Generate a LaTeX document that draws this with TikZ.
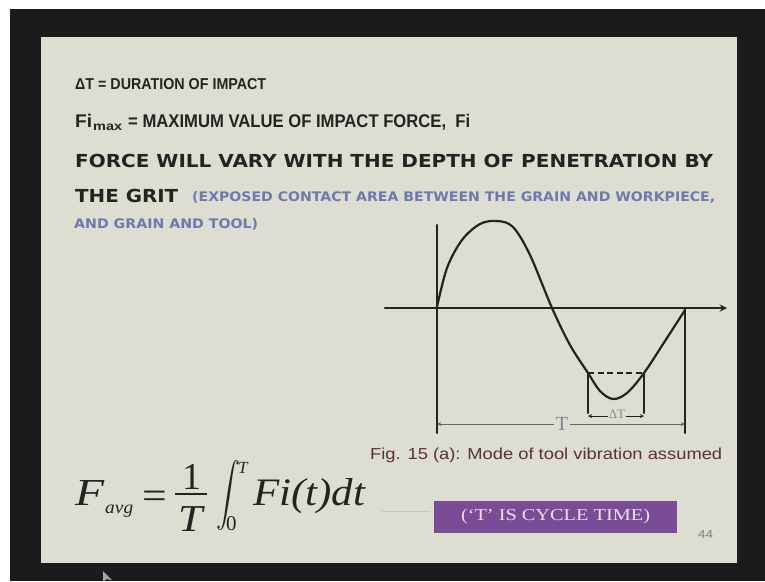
\documentclass[tikz,border=0pt]{standalone}
\usepackage{fontspec}
\usepackage{amsmath}
\usepackage{graphicx}
\setmainfont{Liberation Sans}
\newfontfamily\seriffont{Liberation Serif}
\newfontfamily\heavyfont{DejaVu Sans}
\definecolor{slidebg}{RGB}{221,221,209}
\definecolor{framebg}{RGB}{26,28,27}
\definecolor{inkdark}{RGB}{35,35,35}
\definecolor{noteblue}{RGB}{108,122,176}
\definecolor{captionred}{RGB}{90,50,50}
\definecolor{boxpurple}{RGB}{122,76,150}
\newcommand{\fitto}[3]{\resizebox{#1pt}{#2pt}{#3}}
\newcommand{\eqfont}[1]{\seriffont\fontsize{#1}{#1}\selectfont}
\begin{document}
\begin{tikzpicture}[x=1pt, y=-1pt, line join=round, line cap=round, >=stealth,
		txt/.style={anchor=base west, inner sep=0pt, text=inkdark},
		eq/.style={inner sep=0pt, text=inkdark},
		axis/.style={line width=2.2pt, draw=inkdark},
		dim/.style={<->, line width=0.9pt}]
	\useasboundingbox (0,0) rectangle (765,581);
	\fill[white] (0,0) rectangle (765,581);
	\fill[framebg] (10,9) rectangle (765,581);
	\fill[slidebg] (41,37) rectangle (737,563);
	\fill[gray!70] (103,571)--(103,583)--(106,579)--(112,580)--cycle;
	\node[txt] (dur) at (75,89) {\fitto{191}{11}{\bfseries ΔT = DURATION OF IMPACT}};
	\node[txt] (fi) at (75,127) {\fitto{17}{13.3}{\bfseries Fi}};
	\node[txt] (fisub) at (93,130) {\fitto{29}{6.5}{\bfseries max}};
	\node[txt] (fimax) at (128,127) {\fitto{342}{13.3}{\bfseries = MAXIMUM VALUE OF IMPACT FORCE,\ \ Fi}};
	\node[txt] (vary) at (75,167) {\fitto{638}{13.3}{\heavyfont\bfseries FORCE WILL VARY WITH THE DEPTH OF PENETRATION BY}};
	\node[txt] (grit) at (75,202) {\fitto{103}{13.3}{\heavyfont\bfseries THE GRIT}};
	\node[txt, text=noteblue] (note) at (192,201) {\fitto{523}{10}{\heavyfont\bfseries (EXPOSED CONTACT AREA BETWEEN THE GRAIN AND WORKPIECE,}};
	\node[txt, text=noteblue] (note2) at (74,228) {\fitto{184}{10}{\heavyfont\bfseries AND GRAIN AND TOOL)}};
	\path (437,225) coordinate (ytop)
		(437,433) coordinate (ybot)
		(385,308) coordinate (xl)
		(727,308) coordinate (xr)
		(685,308) coordinate (E)
		(685,433) coordinate (Eb)
		(588,373) coordinate (P)
		(644,373) coordinate (Q)
		(588,413) coordinate (Pb)
		(644,413) coordinate (Qb);
	\draw[axis] (ytop)--(ybot);
	\draw[axis, ->] (xl)--(xr);
	\draw[axis] (E)--(Eb) (P)--(Pb) (Q)--(Qb);
	\draw[axis, line cap=butt, dash pattern=on 6pt off 3.5pt] (P)--(Q);
	\draw[axis] plot[smooth, tension=0.55] coordinates {(437,307) (447,268) (462,240) (480,224) (497,221) (513,227) (530,255) (552,308) (570,345) (588,373) (600,391) (613,399) (627,393) (644,373) (665,341) (685,310)};
	\draw[dim, draw=inkdark] ([yshift=-3pt]Pb)--([yshift=-3pt]Qb);
	\node[fill=slidebg, inner sep=1pt, text=gray!90] (dT) at (617,414) {\eqfont{13}ΔT};
	\draw[dim, draw=gray!80!black] (437,424)--(685,424);
	\node[fill=slidebg, inner sep=2pt, text={rgb,255:red,125;green,132;blue,160}] (T) at (562,424) {\eqfont{20}T};
	\node[txt, text=captionred] (cap) at (370,459) {\fitto{352}{11.5}{Fig. 15 (a): Mode of tool vibration assumed}};
	\node[eq, anchor=base west] (F) at (75,505) {\fitto{29}{25}{\eqfont{38}\itshape F}};
	\node[eq, anchor=base west] (avg) at (105,513) {\fitto{28}{8.5}{\eqfont{18}\itshape avg}};
	\node[eq, anchor=base west] (eqs) at (142,508) {\scalebox{1.15}[1]{\eqfont{38}=}};
	\node[eq, anchor=base] (one) at (192,489) {\eqfont{38}1};
	\node[eq, anchor=base] (den) at (191,531) {\scalebox{1.15}[1]{\eqfont{38}\itshape T}};
	\coordinate (barl) at (175,494);
	\coordinate (barr) at (207,494);
	\draw[inkdark, line width=1.5pt, line cap=butt] (barl)--(barr);
	\node[eq, anchor=north west] (int) at (216,460) {\resizebox*{24pt}{70pt}{$\displaystyle\int$}};
	\node[eq, anchor=base west] (up) at (238,473) {\eqfont{17}\itshape T};
	\node[eq, anchor=base west] (low) at (226,530) {\eqfont{21}0};
	\node[eq, anchor=base west] (fit) at (253,505) {\fitto{112}{27}{\eqfont{38}\itshape Fi(t)dt}};
	\coordinate (rl) at (382,511);
	\coordinate (rr) at (430,511);
	\draw[gray!45, line width=0.6pt] (rl)--(rr);
	\node[fill=boxpurple, minimum width=243pt, minimum height=32pt, inner sep=0pt, text={rgb,255:red,236;green,222;blue,236}] (cycle) at (555.5,517) {\fitto{189}{11.5}{\seriffont(‘T’ IS CYCLE TIME)}};
	\node[txt, text=gray] (page) at (698,538) {\fitto{15}{8}{44}};
\end{tikzpicture}
\end{document}
